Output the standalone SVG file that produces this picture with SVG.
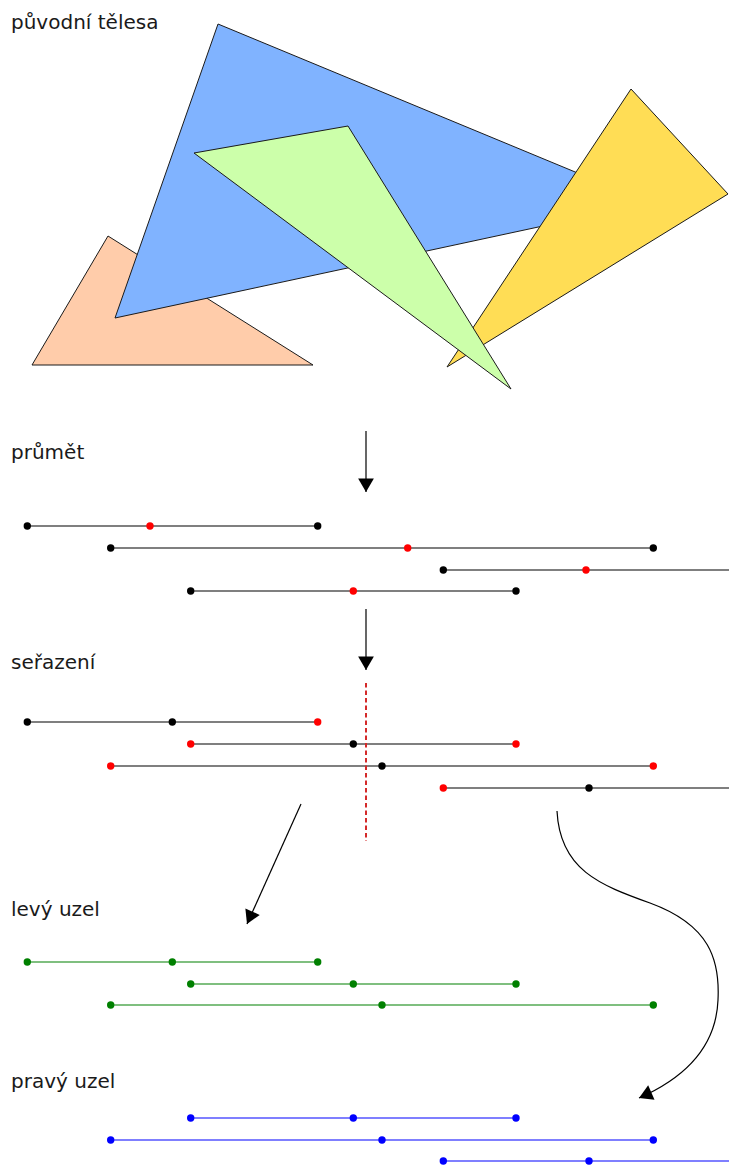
<svg xmlns="http://www.w3.org/2000/svg" width="729" height="1167" viewBox="0 0 729 1167">
  <style>
    .label { font-family: "DejaVu Sans", sans-serif; font-size: 20px; fill: #1a1a1a; }
    .body { stroke: #1a1a1a; stroke-width: 1; stroke-linejoin: miter; }
    .seg { stroke-width: 1.2; fill: none; }
    .arrow { stroke: #000; stroke-width: 1.2; fill: none; marker-end: url(#head); }
    .cut { stroke: #d42a2a; stroke-width: 2; stroke-dasharray: 4.5 3; fill: none; }
  </style>
  <defs>
    <marker id="head" markerUnits="userSpaceOnUse" markerWidth="18" markerHeight="18" viewBox="-13 -8 15 16" refX="0" refY="0" orient="auto">
      <path d="M0,0 L-12,-7 L-12,7 z" fill="#000"/>
    </marker>
  </defs>

  <rect width="729" height="1167" fill="#fff"/>

  <!-- section captions -->
  <g id="captions">
    <text class="label" x="11" y="29">původní tělesa</text>
    <text class="label" x="11" y="459">průmět</text>
    <text class="label" x="11" y="669">seřazení</text>
    <text class="label" x="11" y="916">levý uzel</text>
    <text class="label" x="11" y="1088">pravý uzel</text>
  </g>

  <!-- original bodies -->
  <g id="bodies">
    <polygon id="body-orange" class="body" fill="#ffccaa" points="108,236 32,365 313,365"/>
    <polygon id="body-blue" class="body" fill="#80b3ff" points="218,24 650,203 115,318"/>
    <polygon id="body-yellow" class="body" fill="#ffdd55" points="631,89 728,194 447,367"/>
    <polygon id="body-green" class="body" fill="#ccffaa" points="194,153 348,126 511,389"/>
  </g>

  <!-- projection onto the axis -->
  <g id="projection" stroke="#000" fill="#000">
    <line class="seg" x1="27" y1="526" x2="317.5" y2="526"/>
    <line class="seg" x1="110.5" y1="548" x2="653.5" y2="548"/>
    <line class="seg" x1="443.5" y1="570" x2="729" y2="570"/>
    <line class="seg" x1="190.5" y1="591" x2="516" y2="591"/>
    <g stroke="none">
      <circle cx="27.3" cy="526" r="3.7"/>
      <circle cx="150" cy="526" r="3.7" fill="#ff0000"/>
      <circle cx="317.7" cy="526" r="3.7"/>
      <circle cx="110.7" cy="548" r="3.7"/>
      <circle cx="407.7" cy="548" r="3.7" fill="#ff0000"/>
      <circle cx="653.3" cy="548" r="3.7"/>
      <circle cx="443.3" cy="570" r="3.7"/>
      <circle cx="586" cy="570" r="3.7" fill="#ff0000"/>
      <circle cx="190.7" cy="591" r="3.7"/>
      <circle cx="353.3" cy="591" r="3.7" fill="#ff0000"/>
      <circle cx="516" cy="591" r="3.7"/>
    </g>
  </g>

  <!-- sorted intervals -->
  <g id="sorted" stroke="#000" fill="#000">
    <line class="seg" x1="27" y1="722" x2="317.5" y2="722"/>
    <line class="seg" x1="190.5" y1="744" x2="516" y2="744"/>
    <line class="seg" x1="110.5" y1="766" x2="653.5" y2="766"/>
    <line class="seg" x1="443.5" y1="788" x2="729" y2="788"/>
    <g stroke="none">
      <circle cx="27.3" cy="722" r="3.7"/>
      <circle cx="172.3" cy="722" r="3.7"/>
      <circle cx="317.7" cy="722" r="3.7" fill="#ff0000"/>
      <circle cx="190.7" cy="744" r="3.7" fill="#ff0000"/>
      <circle cx="353.3" cy="744" r="3.7"/>
      <circle cx="516" cy="744" r="3.7" fill="#ff0000"/>
      <circle cx="110.7" cy="766" r="3.7" fill="#ff0000"/>
      <circle cx="382" cy="766" r="3.7"/>
      <circle cx="653.3" cy="766" r="3.7" fill="#ff0000"/>
      <circle cx="443.3" cy="788" r="3.7" fill="#ff0000"/>
      <circle cx="589" cy="788" r="3.7"/>
    </g>
  </g>

  <!-- splitting plane -->
  <g id="split">
    <line class="cut" x1="366" y1="683" x2="366" y2="841"/>
  </g>

  <!-- left child node -->
  <g id="left-node" stroke="#008000" fill="#008000">
    <line class="seg" x1="27" y1="962" x2="317.5" y2="962"/>
    <line class="seg" x1="190.5" y1="984" x2="516" y2="984"/>
    <line class="seg" x1="110.5" y1="1005" x2="653.5" y2="1005"/>
    <g stroke="none">
      <circle cx="27.3" cy="962" r="3.7"/>
      <circle cx="172.3" cy="962" r="3.7"/>
      <circle cx="317.7" cy="962" r="3.7"/>
      <circle cx="190.7" cy="984" r="3.7"/>
      <circle cx="353.3" cy="984" r="3.7"/>
      <circle cx="516" cy="984" r="3.7"/>
      <circle cx="110.7" cy="1005" r="3.7"/>
      <circle cx="382" cy="1005" r="3.7"/>
      <circle cx="653.3" cy="1005" r="3.7"/>
    </g>
  </g>

  <!-- right child node -->
  <g id="right-node" stroke="#0000ff" fill="#0000ff">
    <line class="seg" x1="190.5" y1="1118" x2="516" y2="1118"/>
    <line class="seg" x1="110.5" y1="1140" x2="653.5" y2="1140"/>
    <line class="seg" x1="443.5" y1="1161" x2="729" y2="1161"/>
    <g stroke="none">
      <circle cx="190.7" cy="1118" r="3.7"/>
      <circle cx="353.3" cy="1118" r="3.7"/>
      <circle cx="516" cy="1118" r="3.7"/>
      <circle cx="110.7" cy="1140" r="3.7"/>
      <circle cx="382" cy="1140" r="3.7"/>
      <circle cx="653.3" cy="1140" r="3.7"/>
      <circle cx="443.3" cy="1161" r="3.7"/>
      <circle cx="589" cy="1161" r="3.7"/>
    </g>
  </g>

  <!-- step arrows -->
  <g id="connectors">
    <path class="arrow" d="M366,431 L366,492"/>
    <path class="arrow" d="M366,609 L366,670"/>
    <path class="arrow" d="M301,804 L247,924"/>
    <path class="arrow" d="M557,811 C560,870 600,885 650,903 C710,925 720,960 718,1000 C716,1050 680,1080 639,1098"/>
  </g>
</svg>
